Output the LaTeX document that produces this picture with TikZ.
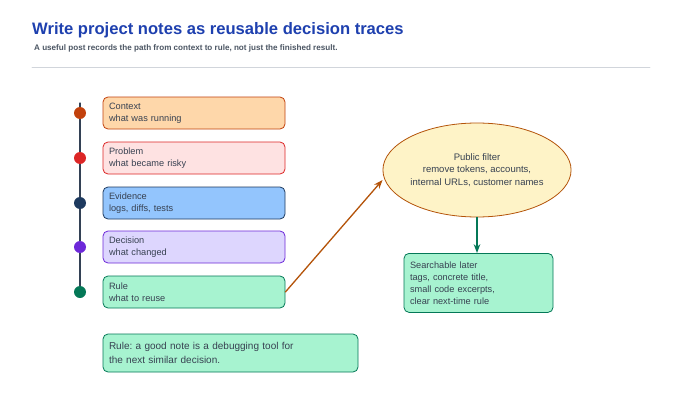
\documentclass[tikz,border=0pt]{standalone}
\usepackage{fontspec}
\setmainfont{Liberation Sans}
\usetikzlibrary{shapes.geometric,arrows.meta}
\frenchspacing

\definecolor{titleblue}{HTML}{1E40AF}
\definecolor{subgray}{HTML}{4B5563}
\definecolor{textgray}{HTML}{374151}
\definecolor{rulegray}{HTML}{D1D5DB}
\definecolor{spine}{HTML}{334155}
\definecolor{ctxfill}{HTML}{FED7AA}\definecolor{ctxdraw}{HTML}{C2410C}
\definecolor{prbfill}{HTML}{FEE2E2}\definecolor{prbdraw}{HTML}{DC2626}
\definecolor{evdfill}{HTML}{93C5FD}\definecolor{evddraw}{HTML}{1E3A5F}
\definecolor{decfill}{HTML}{DDD6FE}\definecolor{decdraw}{HTML}{6D28D9}
\definecolor{rulfill}{HTML}{A7F3D0}\definecolor{ruldraw}{HTML}{047857}
\definecolor{filtfill}{HTML}{FEF3C7}\definecolor{filtdraw}{HTML}{B45309}

\begin{document}
\begin{tikzpicture}[x=1pt,y=-1pt,line cap=round,line join=round,>=Stealth,
  every node/.style={inner sep=1pt,text=textgray},
  stepbox/.style={draw,rounded corners=5pt,line width=0.8pt,minimum height=32pt,
    text width=170pt,inner xsep=6pt,align=left,font=\fontsize{9.2}{12}\selectfont},
  dot/.style={circle,minimum size=12pt,inner sep=0pt}]
  \useasboundingbox[fill=white] (0,0) rectangle (680,412);
  \node[anchor=west,text=titleblue,font=\fontsize{16.6}{20}\selectfont\bfseries] (title) at (31,30)
    {Write project notes as reusable decision traces};
  \node[anchor=west,text=subgray,font=\fontsize{8.1}{9}\selectfont\bfseries] (sub) at (33,48)
    {A useful post records the path from context to rule, not just the finished result.};
  \draw[rulegray,line width=0.8pt] (32,67) -- (650,67);
  \draw[spine,line width=1.3pt] (80,103) -- (80,291);
  \foreach \n/\y/\c/\t/\s in {ctx/113/ctx/Context/what was running,
      prb/158/prb/Problem/what became risky,
      evd/203/evd/Evidence/{logs, diffs, tests},
      dec/247/dec/Decision/what changed,
      rul/292/rul/Rule/what to reuse}{
    \node[dot,fill=\c draw] (\n dot) at (80,\y) {};
    \node[stepbox,fill=\c fill,draw=\c draw] (\n) at (194,\y) {\t\\\s};
  }
  \node[ellipse,draw=filtdraw,fill=filtfill,line width=0.8pt,minimum width=185pt,minimum height=94pt,
    inner sep=0pt,align=center,font=\fontsize{9.5}{12.5}\selectfont] (filter) at (477,170)
    {Public filter\\remove tokens, accounts,\\internal URLs, customer names};
  \node[stepbox,fill=rulfill,draw=ruldraw,text width=137pt,minimum height=59pt,anchor=north] (later) at (478.5,253)
    {Searchable later\\tags, concrete title,\\small code excerpts,\\clear next-time rule};
  \node[stepbox,fill=rulfill,draw=ruldraw,text width=243pt,minimum height=38pt,
    font=\fontsize{10}{14}\selectfont] (lesson) at (230.5,353)
    {Rule: a good note is a debugging tool for\\the next similar decision.};
  \draw[->,filtdraw,line width=1.3pt] (rul.east) -- (filter.west|-0,180);
  \draw[->,ruldraw,line width=1.3pt] (filter.south) -- (filter.south|-later.north);
\end{tikzpicture}
\end{document}
